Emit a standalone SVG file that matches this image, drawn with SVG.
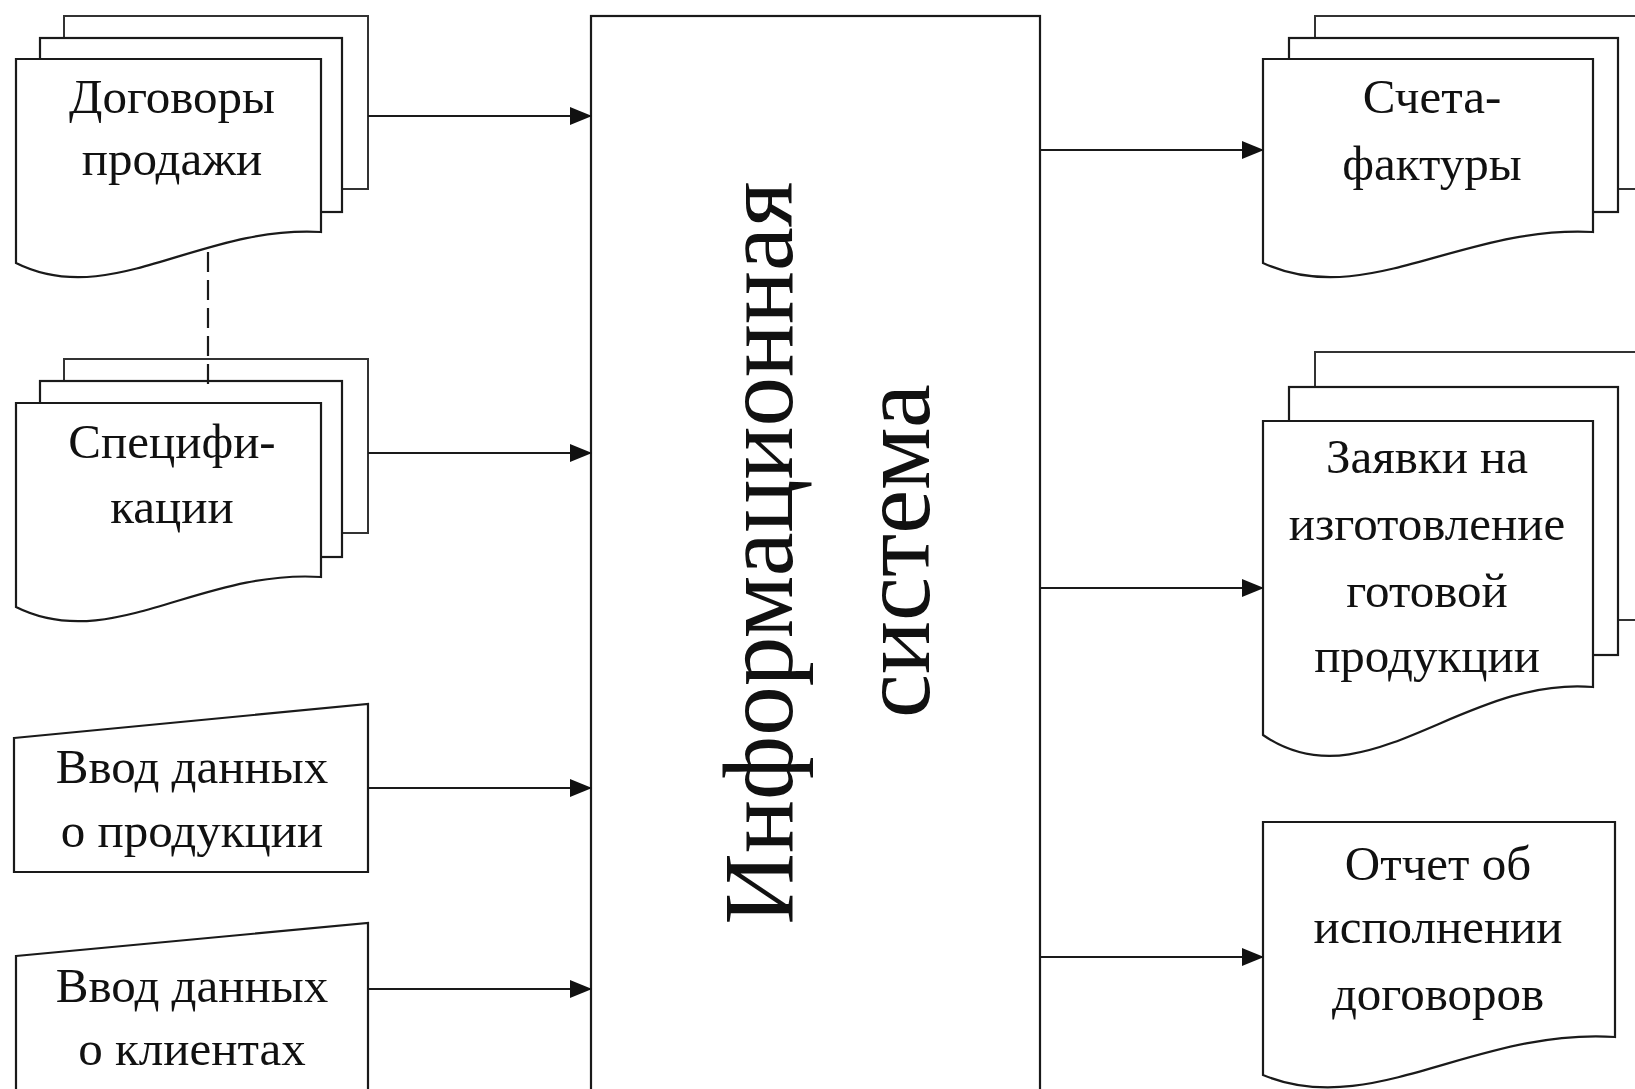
<svg xmlns="http://www.w3.org/2000/svg" width="1635" height="1089" viewBox="0 0 1635 1089">
<style>
.pg{fill:#fff;stroke:#1a1a1a;stroke-width:2.2}
.pgb{fill:#fff;stroke:#333;stroke-width:2}
.t{font-family:"Liberation Serif","Times New Roman",serif;font-size:49px;fill:#111;text-anchor:middle}
.big{font-family:"Liberation Serif","Times New Roman",serif;font-size:99px;fill:#111;text-anchor:middle}
.ln{stroke:#1a1a1a;stroke-width:2.2;fill:none}
</style>
<defs>
<marker id="ah" markerUnits="userSpaceOnUse" markerWidth="22" markerHeight="18" refX="21" refY="9" orient="auto">
<path d="M0,0 L22,9 L0,18 Z" fill="#111"/>
</marker>
</defs>
<rect width="1635" height="1089" fill="#fff"/>

<g id="is">
<rect class="pg" x="591" y="16" width="449" height="1100"/>
<text class="big" transform="translate(792,553) rotate(-90)">Информационная</text>
<text class="big" transform="translate(929,551) rotate(-90)">система</text>
</g>

<g id="dogovory">
<rect class="pgb" x="64" y="16" width="304" height="173"/>
<rect class="pg" x="40" y="38" width="302" height="174"/>
<path class="pg" d="M16,59 H321 V232 C200,225 110,310 16,263 Z"/>
<text class="t" x="172" y="113">Договоры</text>
<text class="t" x="172" y="175">продажи</text>
</g>

<g id="spec">
<rect class="pgb" x="64" y="359" width="304" height="174"/>
<rect class="pg" x="40" y="381" width="302" height="176"/>
<path class="pg" d="M16,403 H321 V577 C200,569 110,654 16,607 Z"/>
<text class="t" x="172" y="458">Специфи-</text>
<text class="t" x="172" y="523">кации</text>
</g>

<g id="vvod-prod">
<path class="pg" d="M14,738 L368,704 L368,872 L14,872 Z"/>
<text class="t" x="192" y="783">Ввод данных</text>
<text class="t" x="192" y="847">о продукции</text>
</g>

<g id="vvod-klient">
<path class="pg" d="M16,956 L368,923 L368,1100 L16,1100 Z"/>
<text class="t" x="192" y="1002">Ввод данных</text>
<text class="t" x="192" y="1065">о клиентах</text>
</g>

<g id="scheta">
<rect class="pgb" x="1315" y="16" width="340" height="173"/>
<rect class="pg" x="1289" y="38" width="329" height="174"/>
<path class="pg" d="M1263,59 H1593 V232 C1462,225 1365,310 1263,263 Z"/>
<text class="t" x="1432" y="113">Счета-</text>
<text class="t" x="1432" y="180">фактуры</text>
</g>

<g id="zayavki">
<rect class="pgb" x="1315" y="352" width="340" height="268"/>
<rect class="pg" x="1289" y="387" width="329" height="268"/>
<path class="pg" d="M1263,421 H1593 V687 C1462,676 1365,805 1263,735 Z"/>
<text class="t" x="1427" y="473">Заявки на</text>
<text class="t" x="1427" y="540">изготовление</text>
<text class="t" x="1427" y="607">готовой</text>
<text class="t" x="1427" y="672">продукции</text>
</g>

<g id="otchet">
<path class="pg" d="M1263,822 H1615 V1037 C1475,1028 1371,1120 1263,1075 Z"/>
<text class="t" x="1438" y="880">Отчет об</text>
<text class="t" x="1438" y="943">исполнении</text>
<text class="t" x="1438" y="1010">договоров</text>
</g>

<g id="connectors">
<path class="ln" d="M208,252 V386" stroke-dasharray="20 8"/>
<path class="ln" d="M368,116 H591" marker-end="url(#ah)"/>
<path class="ln" d="M368,453 H591" marker-end="url(#ah)"/>
<path class="ln" d="M368,788 H591" marker-end="url(#ah)"/>
<path class="ln" d="M368,989 H591" marker-end="url(#ah)"/>
<path class="ln" d="M1040,150 H1263" marker-end="url(#ah)"/>
<path class="ln" d="M1040,588 H1263" marker-end="url(#ah)"/>
<path class="ln" d="M1040,957 H1263" marker-end="url(#ah)"/>
</g>
</svg>
